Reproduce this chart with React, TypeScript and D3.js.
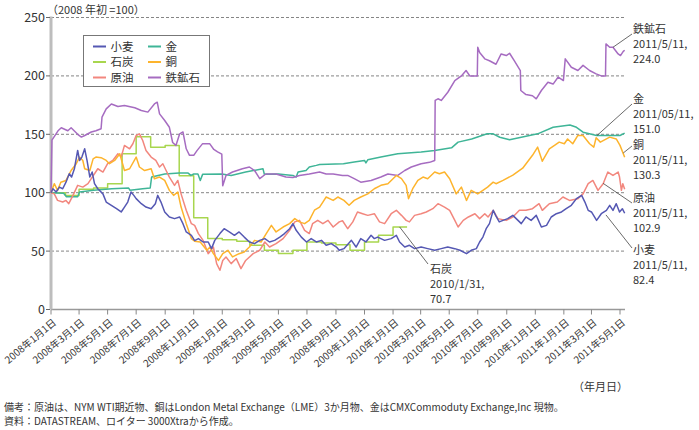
import React from "react";
import * as d3 from "d3";

type Pt = [string, number];

const wheat: Pt[] = [["2008-01-01",100],["2008-01-05",103.4],["2008-01-12",100.6],["2008-01-19",104.8],["2008-01-26",103.4],["2008-02-02",109],["2008-02-09",116.2],["2008-02-14",113.4],["2008-02-20",120.5],["2008-02-27",136.2],["2008-03-02",127.6],["2008-03-07",130.5],["2008-03-13",137.6],["2008-03-18",127.6],["2008-03-24",113.4],["2008-03-29",117.7],["2008-04-03",107.7],["2008-04-10",103.4],["2008-04-21",99],["2008-04-28",92],["2008-05-09",89.2],["2008-05-20",86.3],["2008-05-30",83.5],["2008-06-06",87.7],["2008-06-13",92],["2008-06-20",100.6],["2008-06-26",97.7],["2008-07-01",94.9],["2008-07-12",90.6],["2008-07-22",87.7],["2008-08-02",86.3],["2008-08-11",90.6],["2008-08-16",97.7],["2008-08-23",92],["2008-08-31",83.5],["2008-09-10",79.2],["2008-09-21",77.8],["2008-10-02",79.2],["2008-10-09",73.5],["2008-10-16",66.4],["2008-10-27",63.5],["2008-11-03",59],["2008-11-11",60.7],["2008-11-21",57.8],["2008-12-02",57.8],["2008-12-09",52.1],["2008-12-16",59.2],["2008-12-27",65],["2009-01-05",69.2],["2009-01-16",66.4],["2009-01-27",63.5],["2009-02-06",66.4],["2009-02-17",62],["2009-02-28",57.8],["2009-03-11",56.4],["2009-03-22",59.2],["2009-04-02",60.7],["2009-04-12",57.8],["2009-04-23",59.2],["2009-05-04",62],["2009-05-14",65],["2009-05-25",69.2],["2009-06-01",73.5],["2009-06-08",67.8],["2009-06-19",62],["2009-06-30",57.8],["2009-07-10",60.7],["2009-07-21",57.8],["2009-08-01",59.2],["2009-08-11",55],["2009-08-22",56.4],["2009-09-02",53.5],["2009-09-08",50.7],["2009-09-18",52.1],["2009-10-04",59.2],["2009-10-14",53.5],["2009-10-24",60.7],["2009-11-04",57.8],["2009-11-15",63.5],["2009-11-22",60.7],["2009-11-29",62],["2009-12-14",59.2],["2009-12-28",60.7],["2010-01-08",63.5],["2010-01-15",57.8],["2010-01-26",53.5],["2010-02-05",55],["2010-02-16",52.1],["2010-03-02",53.5],["2010-03-16",52.1],["2010-03-31",50.7],["2010-04-14",52.1],["2010-04-28",53.5],["2010-05-13",52.1],["2010-05-24",50.7],["2010-06-07",47.8],["2010-06-17",50.7],["2010-06-28",52.1],["2010-07-05",57.8],["2010-07-12",62],["2010-07-19",69.2],["2010-07-26",73.5],["2010-08-03",84.9],["2010-08-09",80],["2010-08-16",75],["2010-08-24",76.3],["2010-09-03",77.8],["2010-09-14",80.6],["2010-09-25",76.3],["2010-10-02",73.5],["2010-10-12",79.2],["2010-10-23",76.3],["2010-11-03",80.6],["2010-11-14",70.6],["2010-11-25",72],["2010-12-05",79.2],["2010-12-16",82],["2010-12-27",83.5],["2011-01-06",86.3],["2011-01-17",89.2],["2011-01-28",94.9],["2011-02-08",97.7],["2011-02-15",92],["2011-02-22",84.9],["2011-03-01",83.5],["2011-03-12",76.3],["2011-03-22",82],["2011-04-02",84.9],["2011-04-09",89.2],["2011-04-16",84.9],["2011-04-23",90.6],["2011-04-30",83.5],["2011-05-06",86.3],["2011-05-11",82.4]];

const crudeOil: Pt[] = [["2008-01-01",100],["2008-01-08",99],["2008-01-15",93.4],["2008-01-26",92],["2008-02-02",93.4],["2008-02-08",90.6],["2008-02-17",97.7],["2008-02-27",106.3],["2008-03-09",104.8],["2008-03-20",107.7],["2008-03-27",112],["2008-04-03",116.2],["2008-04-10",120.5],["2008-04-21",117.7],["2008-05-01",124.8],["2008-05-12",127.6],["2008-05-23",133.3],["2008-05-30",130.5],["2008-06-06",140.5],["2008-06-17",137.6],["2008-06-24",141.9],["2008-07-01",149],["2008-07-08",150.4],["2008-07-15",144.7],["2008-07-22",136.2],["2008-08-02",130.5],["2008-08-12",127.6],["2008-08-20",122],["2008-08-27",124.8],["2008-09-03",119],["2008-09-10",113.4],["2008-09-21",106.3],["2008-09-28",110.5],["2008-10-05",99],["2008-10-16",84.9],["2008-10-27",73.5],["2008-11-03",72],["2008-11-11",65],["2008-11-21",59.2],["2008-12-02",47.8],["2008-12-13",53.5],["2008-12-20",39.3],["2008-12-27",33.6],["2009-01-02",42],["2009-01-09",45],["2009-01-20",39.3],["2009-01-31",43.6],["2009-02-10",35],["2009-02-20",42],["2009-03-08",47.8],["2009-03-22",50.7],["2009-04-02",57.8],["2009-04-12",53.5],["2009-04-26",56.4],["2009-05-11",60.7],["2009-05-25",67.8],["2009-06-05",75],["2009-06-15",76.3],["2009-06-26",67.8],["2009-07-06",65],["2009-07-13",73.5],["2009-07-24",76.3],["2009-08-04",73.5],["2009-08-15",76.3],["2009-08-26",70.6],["2009-09-08",75],["2009-09-15",76],["2009-09-26",69.2],["2009-10-07",75],["2009-10-17",83.5],["2009-10-28",82],["2009-11-08",80.6],["2009-11-22",82],["2009-12-03",75],["2009-12-14",73.5],["2009-12-28",82],["2010-01-08",84.9],["2010-01-19",80.6],["2010-01-29",76.3],["2010-02-05",75],["2010-02-16",80.6],["2010-03-02",82],["2010-03-13",83.5],["2010-03-27",86.3],["2010-04-07",90.6],["2010-04-21",87.7],["2010-05-02",84.9],["2010-05-13",76.3],["2010-05-20",70.6],["2010-05-31",76.3],["2010-06-11",79.2],["2010-06-25",82],["2010-07-05",77.8],["2010-07-16",82],["2010-07-23",79.2],["2010-08-03",84.9],["2010-08-13",77.8],["2010-08-31",76.3],["2010-09-14",79.2],["2010-09-28",84.9],["2010-10-12",84.9],["2010-10-26",86.3],["2010-11-09",90.6],["2010-11-16",84.9],["2010-12-01",90.6],["2010-12-18",92],["2010-12-30",96.3],["2011-01-13",93.4],["2011-01-31",94.9],["2011-02-11",99],["2011-02-22",107.7],["2011-03-04",110.5],["2011-03-15",102],["2011-03-26",107.7],["2011-04-05",117.7],["2011-04-16",114.8],["2011-04-27",117.7],["2011-04-30",113.4],["2011-05-04",102],["2011-05-07",107.7],["2011-05-11",102.9]];

const copper: Pt[] = [["2008-01-01",100],["2008-01-08",107.7],["2008-01-15",102],["2008-01-22",109],["2008-02-02",110.5],["2008-02-13",119],["2008-02-24",124.8],["2008-03-02",130.5],["2008-03-09",127.6],["2008-03-13",120.5],["2008-03-24",119],["2008-03-31",129],["2008-04-06",130.5],["2008-04-17",130],["2008-04-28",127.6],["2008-05-05",124.8],["2008-05-16",127.6],["2008-05-27",133.3],["2008-06-06",119],["2008-06-17",120.5],["2008-07-01",130.5],["2008-07-08",122],["2008-07-19",119],["2008-08-02",120.5],["2008-08-09",112],["2008-08-20",113.4],["2008-08-31",110.5],["2008-09-10",102],["2008-09-19",97.7],["2008-09-28",100.6],["2008-10-05",87.7],["2008-10-16",73.5],["2008-10-27",60.7],["2008-11-03",58.5],["2008-11-15",57.8],["2008-11-29",50.7],["2008-12-06",53.5],["2008-12-13",47.8],["2008-12-24",42],["2009-01-02",47.8],["2009-01-13",50.7],["2009-01-23",45],["2009-02-06",47.8],["2009-02-17",49.3],["2009-02-28",53.5],["2009-03-11",59.2],["2009-03-25",57.8],["2009-04-05",65],["2009-04-16",72],["2009-04-26",66.4],["2009-05-11",70.6],["2009-05-25",73.5],["2009-06-05",77.8],["2009-06-15",75],["2009-06-26",73.5],["2009-07-06",76.3],["2009-07-17",85],["2009-07-28",87.7],["2009-08-04",92],["2009-08-11",96.3],["2009-08-26",93.4],["2009-09-05",96.3],["2009-09-18",93.4],["2009-09-29",89.2],["2009-10-10",93.4],["2009-10-24",96.3],["2009-11-08",99],["2009-11-22",103.4],["2009-12-06",106.3],["2009-12-21",107.7],["2010-01-08",114.8],["2010-01-19",112],["2010-01-29",106.3],["2010-02-03",94.9],["2010-02-12",103.4],["2010-02-23",110.5],["2010-03-06",113.4],["2010-03-16",112],["2010-03-31",117.7],["2010-04-10",116.2],["2010-04-21",117.7],["2010-05-02",112],["2010-05-16",99],["2010-05-27",104.8],["2010-06-07",93.4],["2010-06-17",102],["2010-07-01",99],["2010-07-12",102],["2010-07-22",104.8],["2010-08-03",109],["2010-08-09",107.7],["2010-08-24",110.5],["2010-09-14",115],["2010-10-05",121],["2010-10-26",132],["2010-11-06",139],["2010-11-16",127],["2010-12-01",137.6],["2010-12-12",140.5],["2010-12-22",143.3],["2011-01-02",141.9],["2011-01-09",146],["2011-01-20",141.9],["2011-01-31",149],["2011-02-11",149],["2011-02-25",141.9],["2011-03-06",139],["2011-03-11",147],["2011-03-20",143.3],["2011-04-09",147.6],["2011-04-23",146],["2011-05-01",140.5],["2011-05-11",130.3]];

const gold: Pt[] = [["2008-01-01",100],["2008-01-28",99.5],["2008-02-03",96.5],["2008-02-27",96.5],["2008-03-02",100.6],["2008-04-01",102],["2008-05-10",103.4],["2008-06-15",104],["2008-06-18",102],["2008-07-15",103.4],["2008-07-31",104],["2008-08-03",113.4],["2008-08-31",116],["2008-10-01",116.8],["2008-10-20",116.8],["2008-10-26",114.8],["2008-11-01",116],["2008-11-10",116],["2008-11-15",110.5],["2008-11-20",115.7],["2008-12-31",116],["2009-01-20",114.8],["2009-02-20",117.7],["2009-03-29",120.5],["2009-04-01",115.7],["2009-05-01",116],["2009-06-01",114.8],["2009-06-08",113.4],["2009-06-12",117.7],["2009-06-29",119],["2009-07-06",122],["2009-07-21",123.4],["2009-07-28",124.2],["2009-09-17",124.8],["2009-10-10",126.2],["2009-11-01",127.6],["2009-11-04",125.5],["2009-11-08",128.2],["2009-12-06",130.5],["2010-01-11",133.3],["2010-03-02",134.8],["2010-03-31",136.2],["2010-05-06",138.4],["2010-05-20",143.3],["2010-06-18",146],["2010-07-21",150.4],["2010-08-03",150.4],["2010-08-17",147.5],["2010-09-07",145.3],["2010-11-06",150.4],["2010-12-09",156],["2011-01-14",158],["2011-01-28",156],["2011-02-11",151.8],["2011-03-12",149],["2011-05-01",149],["2011-05-11",151]];

const ironOre: Pt[] = [["2008-01-01",100],["2008-01-03",145],["2008-01-16",153],["2008-01-23",155.6],["2008-02-06",153],["2008-02-13",155.6],["2008-02-27",150],["2008-03-06",147.6],["2008-03-13",149],["2008-03-27",152],["2008-04-06",153],["2008-04-17",154.7],["2008-04-19",164.7],["2008-04-28",171.8],["2008-05-09",176],["2008-05-23",173.8],["2008-06-06",174.7],["2008-06-28",172.7],["2008-07-12",170.4],["2008-07-26",169],["2008-08-09",176],["2008-08-15",177.5],["2008-08-20",167.5],["2008-08-31",161.8],["2008-09-10",156],["2008-09-17",143],["2008-09-24",140.5],["2008-10-02",150.4],["2008-10-09",152],["2008-10-16",137.6],["2008-10-23",132],["2008-11-01",132],["2008-11-08",136],["2008-11-20",142],["2008-12-05",142],["2008-12-14",137],["2008-12-22",135],["2008-12-31",133],["2009-01-02",106],["2009-01-09",114.8],["2009-01-23",117.7],["2009-02-13",120.5],["2009-02-28",122],["2009-03-11",119],["2009-03-22",112],["2009-04-04",116],["2009-04-26",116],["2009-05-17",113.4],["2009-06-01",113],["2009-06-15",114.8],["2009-07-06",116],["2009-07-28",117.7],["2009-08-11",116],["2009-08-26",116],["2009-09-15",114.8],["2009-09-26",114.8],["2009-10-10",112],["2009-10-24",109],["2009-11-15",110.5],["2009-12-06",113.4],["2009-12-21",116],["2010-01-11",114.8],["2010-01-26",119],["2010-02-09",122],["2010-03-02",124.8],["2010-03-20",126],["2010-03-31",127.6],["2010-04-01",179],["2010-04-07",180.4],["2010-04-14",179],["2010-04-28",186],["2010-05-13",196],["2010-05-27",200],["2010-06-06",204.6],["2010-06-14",200],["2010-06-30",200],["2010-07-01",224.5],["2010-07-05",220],["2010-07-16",214.6],["2010-07-26",213],["2010-08-09",210],["2010-08-20",218.8],["2010-08-31",217.4],["2010-09-07",219.4],["2010-09-17",213],["2010-09-30",204.6],["2010-10-01",187.5],["2010-10-12",184],["2010-10-26",183],["2010-11-03",180.4],["2010-11-14",187.5],["2010-11-28",194.6],["2010-12-09",193],["2010-12-20",199],["2010-12-31",196],["2011-01-04",214.6],["2011-01-17",207.4],["2011-01-31",204.6],["2011-02-11",209],["2011-02-25",204.6],["2011-03-11",201.7],["2011-03-22",200],["2011-03-31",200],["2011-04-01",227.4],["2011-04-09",224.5],["2011-04-16",224.5],["2011-04-27",218.8],["2011-05-02",217.4],["2011-05-08",221],["2011-05-11",222]];

const coal: Pt[] = [["2008-01-01",100],["2008-02-01",97.5],["2008-03-01",103],["2008-04-01",104],["2008-05-01",107.7],["2008-06-01",133.3],["2008-07-01",148],["2008-08-01",139],["2008-09-01",140.5],["2008-10-01",114.5],["2008-11-01",78.5],["2008-12-01",60.7],["2009-01-01",59.8],["2009-02-01",58.5],["2009-03-01",55],["2009-04-01",50.7],["2009-05-01",47.9],["2009-06-01",50.7],["2009-07-01",57.8],["2009-08-01",57],["2009-09-01",55.5],["2009-10-01",50.7],["2009-11-01",57.8],["2009-12-01",63.5],["2010-01-01",70.7],["2010-01-31",70.7]];

const tickDates = ["2008-01-01","2008-03-01","2008-05-01","2008-07-01","2008-09-01","2008-11-01","2009-01-01","2009-03-01","2009-05-01","2009-07-01","2009-09-01","2009-11-01","2010-01-01","2010-03-01","2010-05-01","2010-07-01","2010-09-01","2010-11-01","2011-01-01","2011-03-01","2011-05-01"];
const tickLabels = ["2008年1月1日","2008年3月1日","2008年5月1日","2008年7月1日","2008年9月1日","2008年11月1日","2009年1月1日","2009年3月1日","2009年5月1日","2009年7月1日","2008年9月1日","2009年11月1日","2010年1月1日","2010年3月1日","2010年5月1日","2010年7月1日","2010年9月1日","2010年11月1日","2011年1月1日","2011年3月1日","2011年5月1日"];
const yTicks = [0, 50, 100, 150, 200, 250];

const seriesNames = ["石炭", "金", "鉄鉱石", "原油", "銅", "小麦"];
const seriesData = [coal, gold, ironOre, crudeOil, copper, wheat];
const seriesColors: Record<string, string> = {
  "小麦": "#5558b3", "石炭": "#a8d64e", "原油": "#f2877e",
  "金": "#3fb597", "銅": "#fdb42d", "鉄鉱石": "#a66cc1",
};
const legendCol1 = ["小麦", "石炭", "原油"];
const legendCol2 = ["金", "銅", "鉄鉱石"];

const annotations = [
  { lines: ["鉄鉱石", "2011/5/11,", "224.0"], at: ["2011-04-16", 224.5] as Pt, tx: 633, ty: 33, ex: 632, ey: 34 },
  { lines: ["金", "2011/05/11,", "151.0"], at: ["2011-03-13", 149] as Pt, tx: 633, ty: 103, ex: 632, ey: 104 },
  { lines: ["銅", "2011/5/11,", "130.3"], at: ["2011-05-08", 134] as Pt, tx: 633, ty: 149, ex: 632, ey: 146 },
  { lines: ["原油", "2011/5/11,", "102.9"], at: ["2011-03-26", 108] as Pt, tx: 633, ty: 202, ex: 632, ey: 203 },
  { lines: ["小麦", "2011/5/11,", "82.4"], at: ["2011-04-01", 81] as Pt, tx: 633, ty: 254, ex: 632, ey: 248 },
  { lines: ["石炭", "2010/1/31,", "70.7"], at: ["2010-01-15", 70.7] as Pt, tx: 430, ty: 273, ex: 428, ey: 264 },
];

const FONT = "'Noto Sans CJK JP', 'Noto Sans', sans-serif";
const parse = d3.utcParse("%Y-%m-%d");

export default function App() {
  const W = 699, H = 430;
  const x = d3.scaleUtc().domain([parse("2008-01-01")!, parse("2011-05-01")!]).range([51, 620]);
  const y = d3.scaleLinear().domain([0, 250]).range([309.5, 17.5]);
  const xEnd = 625;
  const lineGen = d3.line<Pt>().x(d => x(parse(d[0])!)).y(d => y(d[1]));
  const stepGen = d3.line<Pt>().x(d => x(parse(d[0])!)).y(d => y(d[1])).curve(d3.curveStepAfter);

  return (
    <svg width={W} height={H} style={{ position: "absolute", left: 0, top: 0, background: "#fff" }} fontFamily={FONT}>
      <rect x={0} y={0} width={W} height={H} fill="#fff" />
      {yTicks.filter(t => t > 0).map(t => (
        <line key={t} x1={51} x2={xEnd} y1={y(t)} y2={y(t)} stroke="#666" strokeWidth={0.8} strokeDasharray="3,2" />
      ))}
      <line x1={51} x2={xEnd} y1={y(0)} y2={y(0)} stroke="#999" strokeWidth={1.5} />
      {tickDates.map((d, i) => {
        const tx = x(parse(d)!);
        return (
          <g key={d}>
            <line x1={tx} x2={tx} y1={y(0)} y2={y(0) + 5} stroke="#888" strokeWidth={1} />
            <text transform={`translate(${tx + 6},${y(0) + 14}) rotate(-40)`} textAnchor="end" fontSize={10} fill="#333">{tickLabels[i]}</text>
          </g>
        );
      })}
      <line x1={51} x2={51} y1={y(250) - 1} y2={y(0)} stroke="#bdbdbd" strokeWidth={3} />
      {yTicks.map(t => (
        <g key={t}>
          <line x1={46} x2={50} y1={y(t)} y2={y(t)} stroke="#666" strokeWidth={1} />
          <text x={45} y={y(t) + 4.5} textAnchor="end" fontSize={12.5} fill="#333">{t}</text>
        </g>
      ))}
      <text x={47} y={14} fontSize={11} fill="#333">（2008 年初 =100）</text>

      {seriesNames.map((name, i) => (
        <path key={name} d={(name === "石炭" ? stepGen : lineGen)(seriesData[i]) || ""} fill="none"
          stroke={seriesColors[name]} strokeWidth={1.5} strokeLinejoin="round" />
      ))}

      <rect x={83.5} y={35.5} width={126} height={51} fill="#fff" stroke="#777" strokeWidth={1} />
      {[legendCol1, legendCol2].map((col, ci) => col.map((name, ri) => {
        const lx = ci === 0 ? 93 : 148;
        const ly = 46.5 + ri * 15.5;
        return (
          <g key={name}>
            <line x1={lx} x2={lx + 13} y1={ly} y2={ly} stroke={seriesColors[name]} strokeWidth={2} />
            <text x={lx + 17.5} y={ly + 4} fontSize={11.5} fill="#333">{name}</text>
          </g>
        );
      }))}

      {annotations.map(a => (
        <g key={a.lines[0]}>
          <line x1={x(parse(a.at[0])!)} y1={y(a.at[1])} x2={a.ex} y2={a.ey} stroke="#444" strokeWidth={0.8} />
          {a.lines.map((l, k) => (
            <text key={k} x={a.tx} y={a.ty + k * 15} fontSize={11} fill="#333">{l}</text>
          ))}
        </g>
      ))}

      <text x={628} y={391} textAnchor="end" fontSize={11} fill="#333">（年月日）</text>
      <text x={4} y={410.5} fontSize={10} fill="#333">備考：原油は、NYM WTI期近物、銅はLondon Metal Exchange（LME）3か月物、金はCMXCommoduty Exchange,Inc 現物。</text>
      <text x={4} y={425} fontSize={10} fill="#333">資料：DATASTREAM、ロイター 3000Xtraから作成。</text>
    </svg>
  );
}
